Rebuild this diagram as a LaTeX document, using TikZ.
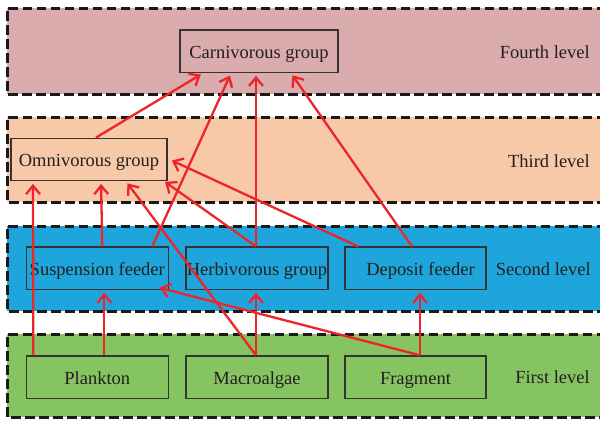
\documentclass[tikz,border=0pt]{standalone}
\usepackage{fontspec}
\setmainfont{Liberation Serif}
\usetikzlibrary{arrows.meta}
\definecolor{bandfour}{HTML}{DAACAE}
\definecolor{bandthree}{HTML}{F7C9A9}
\definecolor{bandtwo}{HTML}{1EA6DC}
\definecolor{bandone}{HTML}{86C461}
\definecolor{arrred}{HTML}{EE2528}
\definecolor{txtgray}{HTML}{231F20}
\tikzset{
  band/.style={draw=black!90, line width=3pt, dash pattern=on 9.5pt off 4.5pt},
  box/.style={draw=black!80, line width=1.3pt, minimum height=42.5pt, inner sep=0pt,
    text height=14pt, text depth=0pt,
    text=txtgray, font=\fontsize{18.5}{20}\selectfont},
  lvl/.style={anchor=east, text height=14pt, text depth=0pt, inner sep=0pt,
    text=txtgray, font=\fontsize{18.5}{20}\selectfont},
  arr/.style={draw=arrred, line width=2.3pt, shorten >=2.5pt,
    -{Straight Barb[length=8.5pt,width=14pt,line width=2.3pt]}}
}
\begin{document}
\begin{tikzpicture}[x=1pt,y=-1pt]
\useasboundingbox (0,0) rectangle (600,421);
% bands
\fill[bandfour] (7,8) rectangle (620,94);
\draw[band] (620,8) -- (7,8) -- (7,94) -- (620,94);
\fill[bandthree] (7,117) rectangle (620,202);
\draw[band] (620,117) -- (7,117) -- (7,202) -- (620,202);
\fill[bandtwo] (7,226) rectangle (620,311);
\draw[band] (620,226) -- (7,226) -- (7,311) -- (620,311);
\fill[bandone] (7,334) rectangle (620,417);
\draw[band] (620,334) -- (7,334) -- (7,417) -- (620,417);
% level labels
\node[lvl] (l4) at (590,51) {Fourth level};
\node[lvl] (l3) at (590,160) {Third level};
\node[lvl] (l2) at (591,268) {Second level};
\node[lvl] (l1) at (590,376) {First level};
% nodes
\node[box, fill=bandfour, minimum width=158pt] (carn) at (259,51.3) {Carnivorous group};
\node[box, fill=bandthree, minimum width=156pt] (omni) at (89,159.5) {Omnivorous group};
\node[box, fill=bandtwo, minimum width=142pt] (susp) at (97.3,268.3) {Suspension feeder};
\node[box, fill=bandtwo, minimum width=142pt] (herb) at (257,268.3) {Herbivorous group};
\node[box, fill=bandtwo, minimum width=141pt] (dep) at (415.5,268.3) {\hspace*{10pt}Deposit feeder};
\node[box, fill=bandone, minimum width=142pt] (plank) at (97.3,377.2) {Plankton};
\node[box, fill=bandone, minimum width=142pt] (macro) at (257,377.2) {Macroalgae};
\node[box, fill=bandone, minimum width=141pt] (frag) at (415.5,377.2) {Fragment};
% arrows
\draw[arr] ([xshift=7pt]omni.north) -- ([xshift=-56pt]carn.south);
\draw[arr] ([xshift=55pt]susp.north) -- ([xshift=-28pt]carn.south);
\draw[arr] ([xshift=-1pt]herb.north) -- ([xshift=-3pt]carn.south);
\draw[arr] ([xshift=-3.5pt]dep.north) -- ([xshift=32pt]carn.south);
\draw[arr] ([xshift=-64pt]plank.north) -- ([xshift=-56pt]omni.south);
\draw[arr] ([xshift=7pt]plank.north) -- ([xshift=7pt]susp.south);
\draw[arr] ([xshift=5pt]susp.north) -- ([xshift=12pt]omni.south);
\draw[arr] ([xshift=-1pt]macro.north) -- ([xshift=37pt]omni.south);
\draw[arr] ([xshift=-1pt]macro.north) -- ([xshift=-1pt]herb.south);
\draw[arr] ([xshift=-1pt]herb.north) -- ([xshift=74pt,yshift=1pt]omni.south);
\draw[arr] ([xshift=-57.5pt]dep.north) -- ([xshift=2pt]omni.east);
\draw[arr] ([xshift=4.5pt]frag.north) -- ([xshift=4.5pt]dep.south);
\draw[arr] ([xshift=4.5pt]frag.north) -- ([xshift=60pt,yshift=3pt]susp.south);
\end{tikzpicture}
\end{document}
